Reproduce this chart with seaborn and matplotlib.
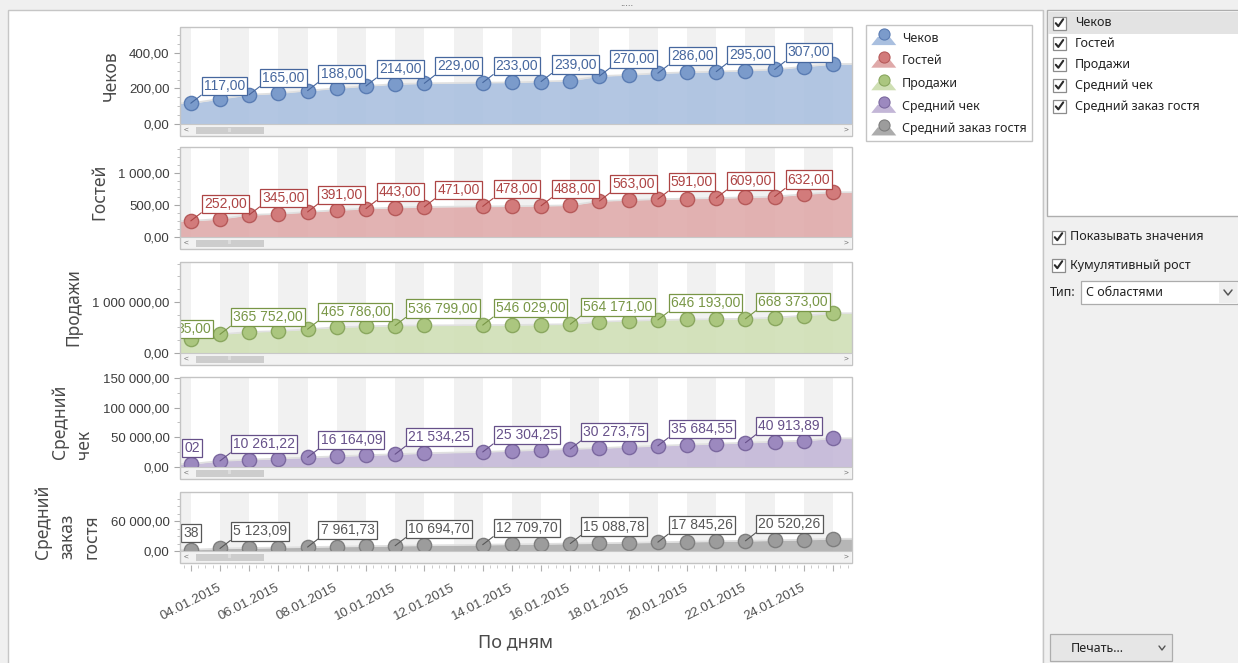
import matplotlib
matplotlib.use("Agg")
import matplotlib.pyplot as plt
import matplotlib.dates as mdates
import matplotlib.ticker as ticker
from matplotlib.patches import Rectangle, Polygon
from matplotlib.lines import Line2D
from matplotlib.legend_handler import HandlerBase
import pandas as pd
import numpy as np
import seaborn as sns

W, H = 1238, 663

# ---- data (cumulative values) ----
dates = ["03.01.2015", "04.01.2015", "05.01.2015", "06.01.2015", "07.01.2015", "08.01.2015",
         "09.01.2015", "10.01.2015", "11.01.2015", "13.01.2015", "14.01.2015", "15.01.2015",
         "16.01.2015", "17.01.2015", "18.01.2015", "19.01.2015", "20.01.2015", "21.01.2015",
         "22.01.2015", "23.01.2015", "24.01.2015", "25.01.2015"]
checks = [117, 141, 165, 173, 188, 201, 214, 225, 229, 233, 234, 239,
          244, 270, 276, 286, 291, 295, 300, 307, 323, 338]
guests = [252, 283, 345, 361, 391, 420, 443, 459, 471, 478, 482, 488,
          495, 563, 578, 591, 600, 609, 620, 632, 668, 700]
sales = [281935, 365752, 412380, 428915, 465786, 505240, 521630, 536799, 540112, 546029, 548410, 556905,
         564171, 612845, 628370, 646193, 655720, 661480, 668373, 693215, 731560, 777940]
avg_check = [5138.02, 10261.22, 12310.40, 14205.15, 16164.09, 18102.60, 19915.33, 21534.25, 23410.80,
             25304.25, 27105.90, 28810.42, 30273.75, 31920.10, 33815.64, 35684.55, 37512.08, 39220.47,
             40913.89, 42630.15, 44310.72, 48305.60]
avg_guest = [2561.38, 5123.09, 6105.44, 7010.52, 7961.73, 8905.17, 9810.36, 10694.70, 11420.85,
             12709.70, 13512.40, 14305.93, 15088.78, 15910.25, 16620.48, 17845.26, 18712.30, 19620.05,
             20520.26, 21615.80, 22810.44, 24705.12]

series_names = ["Чеков", "Гостей", "Продажи", "Средний чек", "Средний заказ гостя"]
axis_titles = ["Чеков", "Гостей", "Продажи", "Средний\nчек", "Средний\nзаказ\nгостя"]
y_max = [546, 1406, 1780000, 151500, 119000]
y_major = [200, 500, 1000000, 50000, 60000]
y_minor = [50, 125, 250000, 25000, 15000]
side_items = ["Показывать значения", "Кумулятивный рост"]

df = pd.DataFrame({
    "date": pd.to_datetime(dates, format="%d.%m.%Y"),
    "Чеков": checks,
    "Гостей": guests,
    "Продажи": sales,
    "Средний чек": avg_check,
    "Средний заказ гостя": avg_guest,
})
df["x"] = mdates.date2num(df["date"])

# which points carry a value label (as in the original chart)
labels_a = [0, 2, 4, 6, 8, 9, 11, 13, 15, 17, 19]
labels_b = [0, 1, 4, 7, 9, 12, 15, 18]

# pane geometry in pixels and colours; "cut" = how many chars of the first label
# stay visible at the left edge (None = whole label)
panes = [
    dict(top=27, bottom=124, area="#a9bfdf", fill="#7b9bcb", edge="#5a7cb3", text="#46679e", idx=labels_a, first=(13, 10), cut=None),
    dict(top=147, bottom=237, area="#dfa9a9", fill="#d27b7b", edge="#b65a5a", text="#ad4444", idx=labels_a, first=(13, 10), cut=None),
    dict(top=262, bottom=353, area="#cfdfb4", fill="#abc67f", edge="#8aa75f", text="#789646", idx=labels_b, first=(20, 3), cut=5),
    dict(top=377, bottom=467, area="#c3b6d7", fill="#9c89bf", edge="#7b689f", text="#665089", idx=labels_b, first=(9, 9), cut=2),
    dict(top=492, bottom=551, area="#acacac", fill="#9c9c9c", edge="#7e7e7e", text="#575757", idx=labels_b, first=(8, 10), cut=2),
]
X0, X1 = 180, 852


def px_rect(x0, y0, x1, y1):
    return [x0 / W, 1 - y1 / H, (x1 - x0) / W, (y1 - y0) / H]


def ru_num(v):
    return f"{v:,.2f}".replace(",", " ").replace(".", ",")


class SeriesIcon:
    def __init__(self, area, fill, edge):
        self.area, self.fill, self.edge = area, fill, edge


class AreaMarkerHandler(HandlerBase):
    def create_artists(self, legend, orig_handle, xdescent, ydescent, width, height, fontsize, trans):
        x0, y0 = -xdescent, -ydescent
        poly = Polygon([(x0, y0), (x0 + width, y0), (x0 + 0.74 * width, y0 + 0.55 * height),
                        (x0 + 0.26 * width, y0 + 0.55 * height)], closed=True,
                       fc=orig_handle.area, ec="none", transform=trans)
        dot = Line2D([x0 + width / 2], [y0 + 0.72 * height], marker="o", ms=8, ls="none",
                     mfc=orig_handle.fill, mec=orig_handle.edge, mew=0.8, transform=trans)
        return [poly, dot]


sns.set_theme(style="white")
plt.rcParams["font.family"] = ["Liberation Sans", "DejaVu Sans"]

fig = plt.figure(figsize=(W / 100, H / 100), dpi=100)
fig.patch.set_facecolor("#f0f0f0")

# window chrome behind the chart
ui = fig.add_axes([0, 0, 1, 1], zorder=-1)
ui.set_xlim(0, W)
ui.set_ylim(H, 0)
ui.axis("off")
ui.add_patch(Rectangle((8, 10), 1035, 660, fc="white", ec="#c6c6c6", lw=1))
ui.text(627, 3, ".....", ha="center", va="center", fontsize=7, color="#555555")

x_lo = df["x"].iloc[0] - 0.37
x_hi = df["x"].iloc[-1] + 0.65
day_ticks = np.arange(np.ceil(x_lo), np.floor(x_hi) + 1)

axes = []
for k, (name, p) in enumerate(zip(series_names, panes)):
    ax = fig.add_axes(px_rect(X0, p["top"], X1, p["bottom"]))
    axes.append(ax)
    ax.set_facecolor("white")
    for d in np.arange(np.floor(x_lo), x_hi + 1):
        if mdates.num2date(d).day % 2 == 0:
            ax.axvspan(d, d + 1, color="#f1f1f1", lw=0, zorder=0)

    vals = df[name].to_numpy()
    xe = np.concatenate([[x_lo], df["x"].to_numpy(), [x_hi]])
    ye = np.concatenate([[vals[0]], vals, [vals[-1]]])
    ax.fill_between(xe, 0, ye, color=p["area"], alpha=0.88, lw=0, zorder=1)
    sns.lineplot(x=xe, y=ye, ax=ax, color="#e0e0e0", lw=1.2, zorder=2)
    sns.scatterplot(data=df, x="x", y=name, ax=ax, s=105, color=p["fill"],
                    edgecolor=p["edge"], linewidth=1.0, zorder=3, legend=False)

    box = dict(boxstyle="square,pad=0.15", fc="white", ec=p["text"], lw=0.9)
    for j in p["idx"]:
        xy = (df["x"].iloc[j], vals[j])
        txt = ru_num(vals[j])
        if j == 0 and p["cut"]:
            # label pushed against the left edge, only its tail is visible
            ax.annotate(txt[-p["cut"]:], xy=xy, xytext=p["first"], textcoords="offset pixels",
                        ha="right", va="bottom", fontsize=10, color=p["text"], zorder=4,
                        clip_on=True, bbox=box)
            continue
        ax.annotate(txt, xy=xy, xytext=(13, 10), textcoords="offset pixels",
                    ha="left", va="bottom", fontsize=10, color=p["text"], zorder=4, clip_on=True,
                    bbox=box,
                    arrowprops=dict(arrowstyle="-", color=p["text"], lw=0.8,
                                    shrinkA=0, shrinkB=0, relpos=(0, 0)))

    ax.set_xlim(x_lo, x_hi)
    ax.set_ylim(0, y_max[k])
    for s in ax.spines.values():
        s.set_visible(False)
    ax.yaxis.set_major_locator(ticker.MultipleLocator(y_major[k]))
    ax.yaxis.set_minor_locator(ticker.MultipleLocator(y_minor[k]))
    ax.yaxis.set_major_formatter(ticker.FuncFormatter(lambda v, pos: ru_num(v)))
    ax.tick_params(axis="y", which="major", left=True, direction="out", length=4.5, width=0.8,
                   color="#a8a8a8", labelsize=9.5, labelcolor="#3c3c3c", pad=3)
    ax.tick_params(axis="y", which="minor", left=True, direction="out", length=2.5, width=0.7,
                   color="#c0c0c0")
    ax.set_ylabel(axis_titles[k], fontsize=12.5, color="#4a4a4a", labelpad=7, linespacing=1.45,
                  family=["Noto Sans", "DejaVu Sans"], multialignment="left")
    ax.set_xlabel("")

    if k < len(panes) - 1:
        ax.set_xticks([])
    else:
        ax.spines["bottom"].set_position(("outward", 10))
        ax.set_xticks(day_ticks)
        ax.set_xticklabels([mdates.num2date(t).strftime("%d.%m.%Y") if mdates.num2date(t).day % 2 == 0 else ""
                            for t in day_ticks])
        ax.xaxis.set_minor_locator(ticker.MultipleLocator(0.25))
        ax.tick_params(axis="x", which="major", bottom=True, direction="out", length=4, width=0.8,
                       color="#b0b0b0", labelsize=9.5, labelcolor="#505050", pad=12)
        ax.tick_params(axis="x", which="minor", bottom=True, direction="out", length=2, width=0.6,
                       color="#c4c4c4")
        for lbl in ax.get_xticklabels():
            lbl.set_rotation(27)
            lbl.set_ha("right")
            lbl.set_va("center")
            lbl.set_rotation_mode("anchor")
        ax.set_xlabel("По дням", fontsize=13, color="#4a4a4a", labelpad=8,
                      family=["Noto Sans", "DejaVu Sans"])

# pane borders and scroll bars on top
top = fig.add_axes([0, 0, 1, 1], zorder=10)
top.set_xlim(0, W)
top.set_ylim(H, 0)
top.axis("off")
top.patch.set_visible(False)
for p in panes:
    b = p["bottom"]
    top.add_patch(Rectangle((X0 + 1, b), X1 - X0 - 2, 12, fc="#f2f2f2", ec="none"))
    top.plot([X0, X1], [b, b], color="#c8c8c8", lw=0.8)
    top.add_patch(Rectangle((196, b + 2.5), 68, 7, fc="#cdcdcd", ec="none"))
    top.text(230, b + 6, "III", ha="center", va="center", fontsize=4, color="#ececec")
    top.text(186, b + 6, "<", ha="center", va="center", fontsize=6, color="#707070")
    top.text(846, b + 6, ">", ha="center", va="center", fontsize=6, color="#707070")
    top.add_patch(Rectangle((X0, p["top"]), X1 - X0, b + 12 - p["top"], fc="none", ec="#c4c4c4", lw=1))

# legend with area+marker icons
icons = [SeriesIcon(p["area"], p["fill"], p["edge"]) for p in panes]
fig.legend(icons, series_names, handler_map={SeriesIcon: AreaMarkerHandler()},
           loc="upper left", bbox_to_anchor=(866 / W, 1 - 25 / H), frameon=True, fancybox=False,
           edgecolor="#c4c4c4", framealpha=1, borderpad=0.42, labelspacing=0.62,
           handlelength=2.0, handleheight=1.45, handletextpad=0.45, borderaxespad=0,
           prop={"family": ["Noto Sans", "DejaVu Sans"], "size": 9})

# right-hand options panel
ui_font = ["Noto Sans", "DejaVu Sans"]
ui.add_patch(Rectangle((1043, 0), 195, H, fc="#f0f0f0", ec="none"))
ui.plot([1043, 1043], [10, H], color="#c6c6c6", lw=1)
ui.add_patch(Rectangle((1047, 10), 195, 206, fc="white", ec="#aeaeae", lw=1))
ui.add_patch(Rectangle((1048, 12), 190, 22, fc="#e3e3e3", ec="none"))


def checkbox(x, y):
    ui.add_patch(Rectangle((x, y - 6.5), 13, 13, fc="white", ec="#8c8c8c", lw=0.9))
    ui.plot([x + 2.8, x + 5.3, x + 10.2], [y + 0.2, y + 3.2, y - 3.8], color="#2b2b2b", lw=1.5,
            solid_capstyle="round")


for i, name in enumerate(series_names):
    y = 23 + i * 20.8
    checkbox(1053, y)
    ui.text(1075, y, name, ha="left", va="center", fontsize=9, color="#222222", family=ui_font)

for i, item in enumerate(side_items):
    y = 237 + i * 28
    checkbox(1052, y)
    ui.text(1070, y, item, ha="left", va="center", fontsize=9, color="#222222", family=ui_font)

ui.text(1050, 293, "Тип:", ha="left", va="center", fontsize=9, color="#222222", family=ui_font)
ui.add_patch(Rectangle((1081, 281), 157, 23, fc="white", ec="#acacac", lw=0.9))
ui.add_patch(Rectangle((1219, 282), 18, 21, fc="#eeeeee", ec="none"))
ui.text(1086, 292.5, "С областями", ha="left", va="center", fontsize=9, color="#222222", family=ui_font)
ui.plot([1224, 1228, 1232], [290, 295, 290], color="#555555", lw=1.1)

ui.add_patch(Rectangle((1050, 634), 122, 27, fc="#e6e6e6", ec="#adadad", lw=0.9))
ui.text(1097, 648, "Печать...", ha="center", va="center", fontsize=9, color="#222222", family=ui_font)
ui.plot([1159, 1162, 1165], [646, 650, 646], color="#555555", lw=1)

fig.savefig("out.png", dpi=100, facecolor=fig.get_facecolor())
